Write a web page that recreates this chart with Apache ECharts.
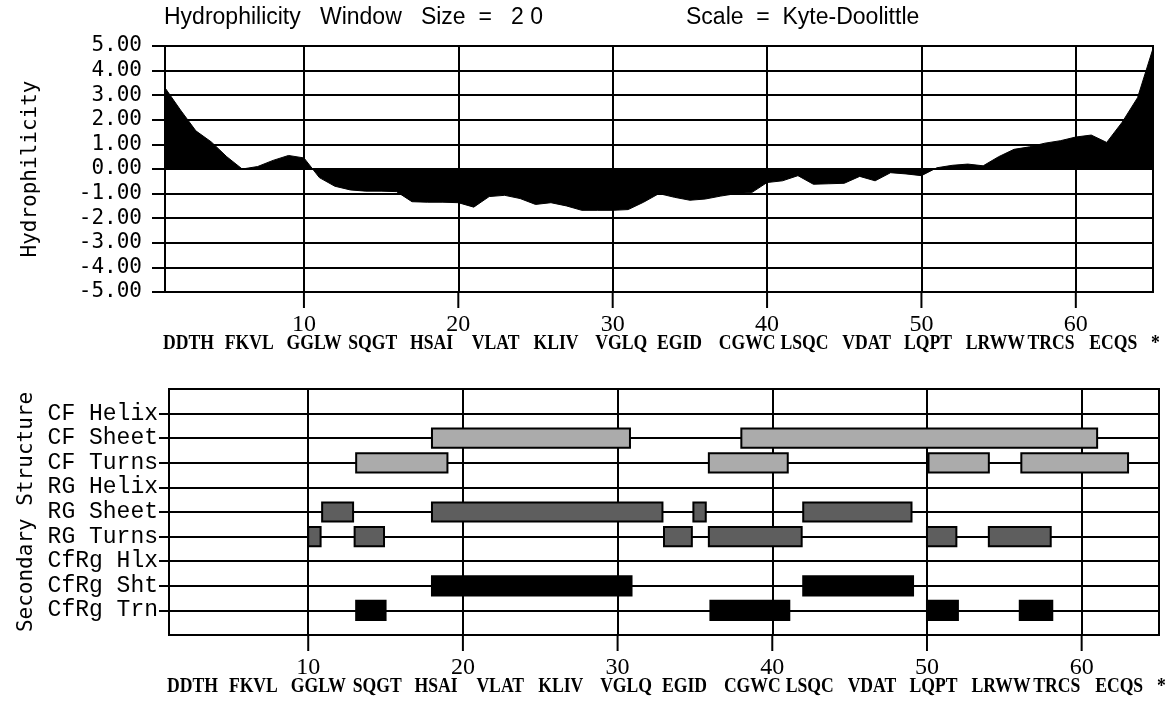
<!DOCTYPE html>
<html><head><meta charset="utf-8">
<script src="https://cdn.jsdelivr.net/npm/echarts@6/dist/echarts.min.js"></script>
<style>html,body{margin:0;padding:0;background:#fff}#c{width:1172px;height:707px}</style>
</head><body><div id="c"></div>
<script>
// ---- data ----
const hydrophilicity = [
  3.3, 2.4, 1.55, 1.1, 0.5, 0.0, 0.1, 0.35, 0.55, 0.45,
  -0.35, -0.7, -0.85, -0.9, -0.9, -0.92, -1.33, -1.35, -1.35, -1.37,
  -1.55, -1.12, -1.07, -1.2, -1.44, -1.37, -1.5, -1.68, -1.68, -1.68,
  -1.65, -1.35, -1.0, -1.15, -1.27, -1.22, -1.1, -1.0, -0.96, -0.55,
  -0.48, -0.27, -0.62, -0.6, -0.58, -0.3, -0.48, -0.15, -0.2, -0.27,
  0.05, 0.15, 0.2, 0.13, 0.5, 0.8, 0.9, 1.05, 1.15, 1.3,
  1.38, 1.08, 1.9, 2.9, 4.9
];
const xTickValues = [10, 20, 30, 40, 50, 60];
const seqGroups = ['DDTH','FKVL','GGLW','SQGT','HSAI','VLAT','KLIV','VGLQ','EGID','CGWC','LSQC','VDAT','LQPT','LRWW','TRCS','ECQS','*'];
const rowNames = ['CF Helix','CF Sheet','CF Turns','RG Helix','RG Sheet','RG Turns','CfRg Hlx','CfRg Sht','CfRg Trn'];
const cfSheet = [[18, 30.8], [38, 61]];
const cfTurns = [[13.1, 19], [35.9, 41], [50.1, 54], [56.1, 63]];
const rgSheet = [[10.9, 12.9], [18, 32.9], [34.9, 35.7], [42, 49]];
const rgTurns = [[10, 10.8], [13, 14.9], [33, 34.8], [35.9, 41.9], [50, 51.9], [54, 58]];
const cfrgSht = [[18, 30.9], [42, 49.1]];
const cfrgTrn = [[13.1, 15], [36, 41.1], [50, 52], [56, 58.1]];
const titleLeft = 'Hydrophilicity   Window   Size  =   2 0';
const titleRight = 'Scale  =  Kyte-Doolittle';

// ---- build ----
const X_MIN = 1, X_MAX = 65;
const TOP_Y_MIN = -5, TOP_Y_MAX = 5;
const ROW_MIN = 0, ROW_MAX = 10;
const lineData = hydrophilicity.map((v, i) => [i + 1, v]);
function rowBars(arr, name) {
  const r = rowNames.indexOf(name) + 1;
  return arr.map(b => [b[0], b[1], r]);
}
const cfBars = rowBars(cfSheet, 'CF Sheet').concat(rowBars(cfTurns, 'CF Turns'));
const rgBars = rowBars(rgSheet, 'RG Sheet').concat(rowBars(rgTurns, 'RG Turns'));
const cfrgBars = rowBars(cfrgSht, 'CfRg Sht').concat(rowBars(cfrgTrn, 'CfRg Trn'));
const rowVals = rowNames.map((n, i) => i + 1);
const seqData = seqGroups.map((g, i) => [4 * i + 1]);
const tickData = xTickValues.map(v => [v]);

const K = '#000';
const mono = '"DejaVu Sans Mono"';
function barRender(fill) {
  return function (params, api) {
    const s = api.coord([api.value(0), api.value(2)]);
    const e = api.coord([api.value(1), api.value(2)]);
    const h = api.size([0, 0.78])[1];
    return {
      type: 'rect',
      shape: { x: s[0], y: s[1] - h / 2, width: e[0] - s[0], height: h },
      style: { fill: fill, stroke: K, lineWidth: 2 }
    };
  };
}
function tickSeries(ai, yEdge) {
  return {
    type: 'custom', xAxisIndex: ai, yAxisIndex: ai, data: tickData, silent: true, clip: false,
    renderItem: (params, api) => {
      const p = api.coord([api.value(0), yEdge]);
      return { type: 'line', shape: { x1: p[0], y1: p[1], x2: p[0], y2: p[1] + 16 }, style: { stroke: K, lineWidth: 2 } };
    }
  };
}
function seqSeries(ai, yEdge) {
  return {
    type: 'custom', xAxisIndex: ai, yAxisIndex: ai, data: seqData, silent: true, clip: false,
    renderItem: (params, api) => {
      const p = api.coord([api.value(0), yEdge]);
      return {
        type: 'text', x: p[0] - 2, y: p[1] + 52, scaleX: 0.84,
        style: { text: seqGroups[params.dataIndex], font: 'bold 21px "Liberation Serif"', fill: K, textAlign: 'left', textVerticalAlign: 'middle' }
      };
    }
  };
}
function numAxis(grid) {
  return {
    type: 'value', gridIndex: grid, min: X_MIN, max: X_MAX, position: 'bottom',
    axisLine: { show: false, onZero: false },
    axisTick: { show: false },
    axisLabel: { customValues: xTickValues, margin: 21, color: K, fontFamily: 'Liberation Serif', fontSize: 24 },
    splitLine: { show: true, lineStyle: { color: K, width: 2 } }
  };
}

const chart = echarts.init(document.getElementById('c'), null, { renderer: 'canvas' });
chart.setOption({
  backgroundColor: '#fff',
  animation: false,
  graphic: [
    { type: 'text', left: 164, top: 6, style: { text: titleLeft, font: '23px "Liberation Sans"', fill: K } },
    { type: 'text', left: 686, top: 6, style: { text: titleRight, font: '23px "Liberation Sans"', fill: K } }
  ],
  grid: [
    { left: 165, right: 19, top: 46, bottom: 415, show: true, borderColor: K, borderWidth: 2 },
    { left: 169, right: 13, top: 389, bottom: 72, show: true, borderColor: K, borderWidth: 2 }
  ],
  xAxis: [numAxis(0), numAxis(1)],
  yAxis: [
    {
      type: 'value', gridIndex: 0, min: TOP_Y_MIN, max: TOP_Y_MAX, interval: 1,
      name: 'Hydrophilicity', nameLocation: 'middle', nameRotate: 90, nameGap: 124,
      nameTextStyle: { fontFamily: mono, fontSize: 21, color: K },
      axisLine: { show: false },
      axisTick: { show: true, length: 13, lineStyle: { color: K, width: 2 } },
      axisLabel: { margin: 23, color: K, fontFamily: mono, fontSize: 21, formatter: v => v.toFixed(2) },
      splitLine: { show: true, lineStyle: { color: K, width: 2 } }
    },
    {
      type: 'value', gridIndex: 1, min: ROW_MIN, max: ROW_MAX, interval: 1, inverse: true,
      name: 'Secondary Structure', nameLocation: 'middle', nameRotate: 90, nameGap: 130,
      nameTextStyle: { fontFamily: mono, fontSize: 21, color: K },
      axisLine: { show: false },
      axisTick: { show: true, customValues: rowVals, length: 10, lineStyle: { color: K, width: 2 } },
      axisLabel: { customValues: rowVals, margin: 11, color: K, fontFamily: 'Liberation Mono', fontSize: 23, formatter: v => rowNames[v - 1] },
      splitLine: { show: true, lineStyle: { color: K, width: 2 } }
    }
  ],
  series: [
    {
      type: 'line', xAxisIndex: 0, yAxisIndex: 0, data: lineData, symbol: 'none',
      lineStyle: { color: K, width: 1 }, areaStyle: { color: K, opacity: 1 }
    },
    tickSeries(0, TOP_Y_MIN),
    seqSeries(0, TOP_Y_MIN),
    { type: 'custom', xAxisIndex: 1, yAxisIndex: 1, data: cfBars, renderItem: barRender('#ababab'), encode: { x: [0, 1], y: 2 } },
    { type: 'custom', xAxisIndex: 1, yAxisIndex: 1, data: rgBars, renderItem: barRender('#5e5e5e'), encode: { x: [0, 1], y: 2 } },
    { type: 'custom', xAxisIndex: 1, yAxisIndex: 1, data: cfrgBars, renderItem: barRender('#000'), encode: { x: [0, 1], y: 2 } },
    tickSeries(1, ROW_MAX),
    seqSeries(1, ROW_MAX)
  ]
});
</script></body></html>
